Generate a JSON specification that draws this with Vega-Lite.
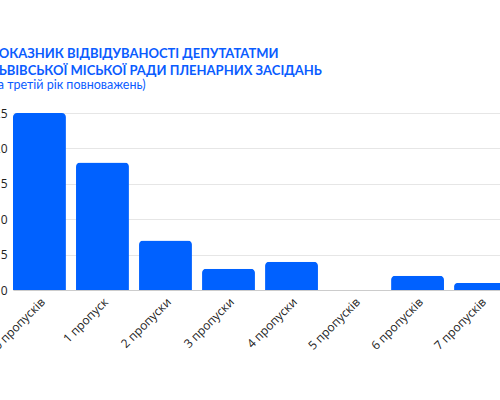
{
  "$schema": "https://vega.github.io/schema/vega-lite/v6.json",
  "autosize": {"type": "none"},
  "width": 494,
  "height": 177,
  "padding": {"left": 13, "top": 113, "right": -7, "bottom": 110},
  "background": "white",
  "title": {
    "text": ["ПОКАЗНИК ВІДВІДУВАНОСТІ ДЕПУТАТАТМИ", "ЛЬВІВСЬКОЇ МІСЬКОЇ РАДИ ПЛЕНАРНИХ ЗАСІДАНЬ"],
    "subtitle": "(за третій рік повноважень)",
    "anchor": "start",
    "frame": "group",
    "dx": -24,
    "offset": 16,
    "font": "Lato",
    "fontSize": 13,
    "fontWeight": "bold",
    "color": "#0a5cff",
    "lineHeight": 17,
    "subtitleFont": "Lato",
    "subtitleFontSize": 12.5,
    "subtitleColor": "#0a5cff",
    "subtitlePadding": 1
  },
  "data": {
    "values": [
      {"Пропуски": "0 пропусків", "Депутати": 25},
      {"Пропуски": "1 пропуск", "Депутати": 18},
      {"Пропуски": "2 пропуски", "Депутати": 7},
      {"Пропуски": "3 пропуски", "Депутати": 3},
      {"Пропуски": "4 пропуски", "Депутати": 4},
      {"Пропуски": "5 пропусків", "Депутати": 0},
      {"Пропуски": "6 пропусків", "Депутати": 2},
      {"Пропуски": "7 пропусків", "Депутати": 1}
    ]
  },
  "mark": {"type": "bar", "color": "#0061ff", "cornerRadiusTopLeft": 4, "cornerRadiusTopRight": 4},
  "encoding": {
    "x": {
      "field": "Пропуски",
      "type": "nominal",
      "sort": null,
      "scale": {"paddingInner": 0.16, "paddingOuter": 0},
      "axis": {
        "title": null,
        "labelAngle": -45,
        "labelFont": "Open Sans",
        "labelFontSize": 12,
        "labelColor": "#222222",
        "labelPadding": 6,
        "ticks": false,
        "domainColor": "#cccccc"
      }
    },
    "y": {
      "field": "Депутати",
      "type": "quantitative",
      "scale": {"domain": [0, 25], "nice": false},
      "axis": {
        "title": null,
        "values": [0, 5, 10, 15, 20, 25],
        "labelFont": "Open Sans",
        "labelFontSize": 12,
        "labelColor": "#222222",
        "labelPadding": 6,
        "ticks": false,
        "domain": false,
        "gridColor": "#e6e6e6"
      }
    }
  },
  "config": {"view": {"stroke": null}}
}
